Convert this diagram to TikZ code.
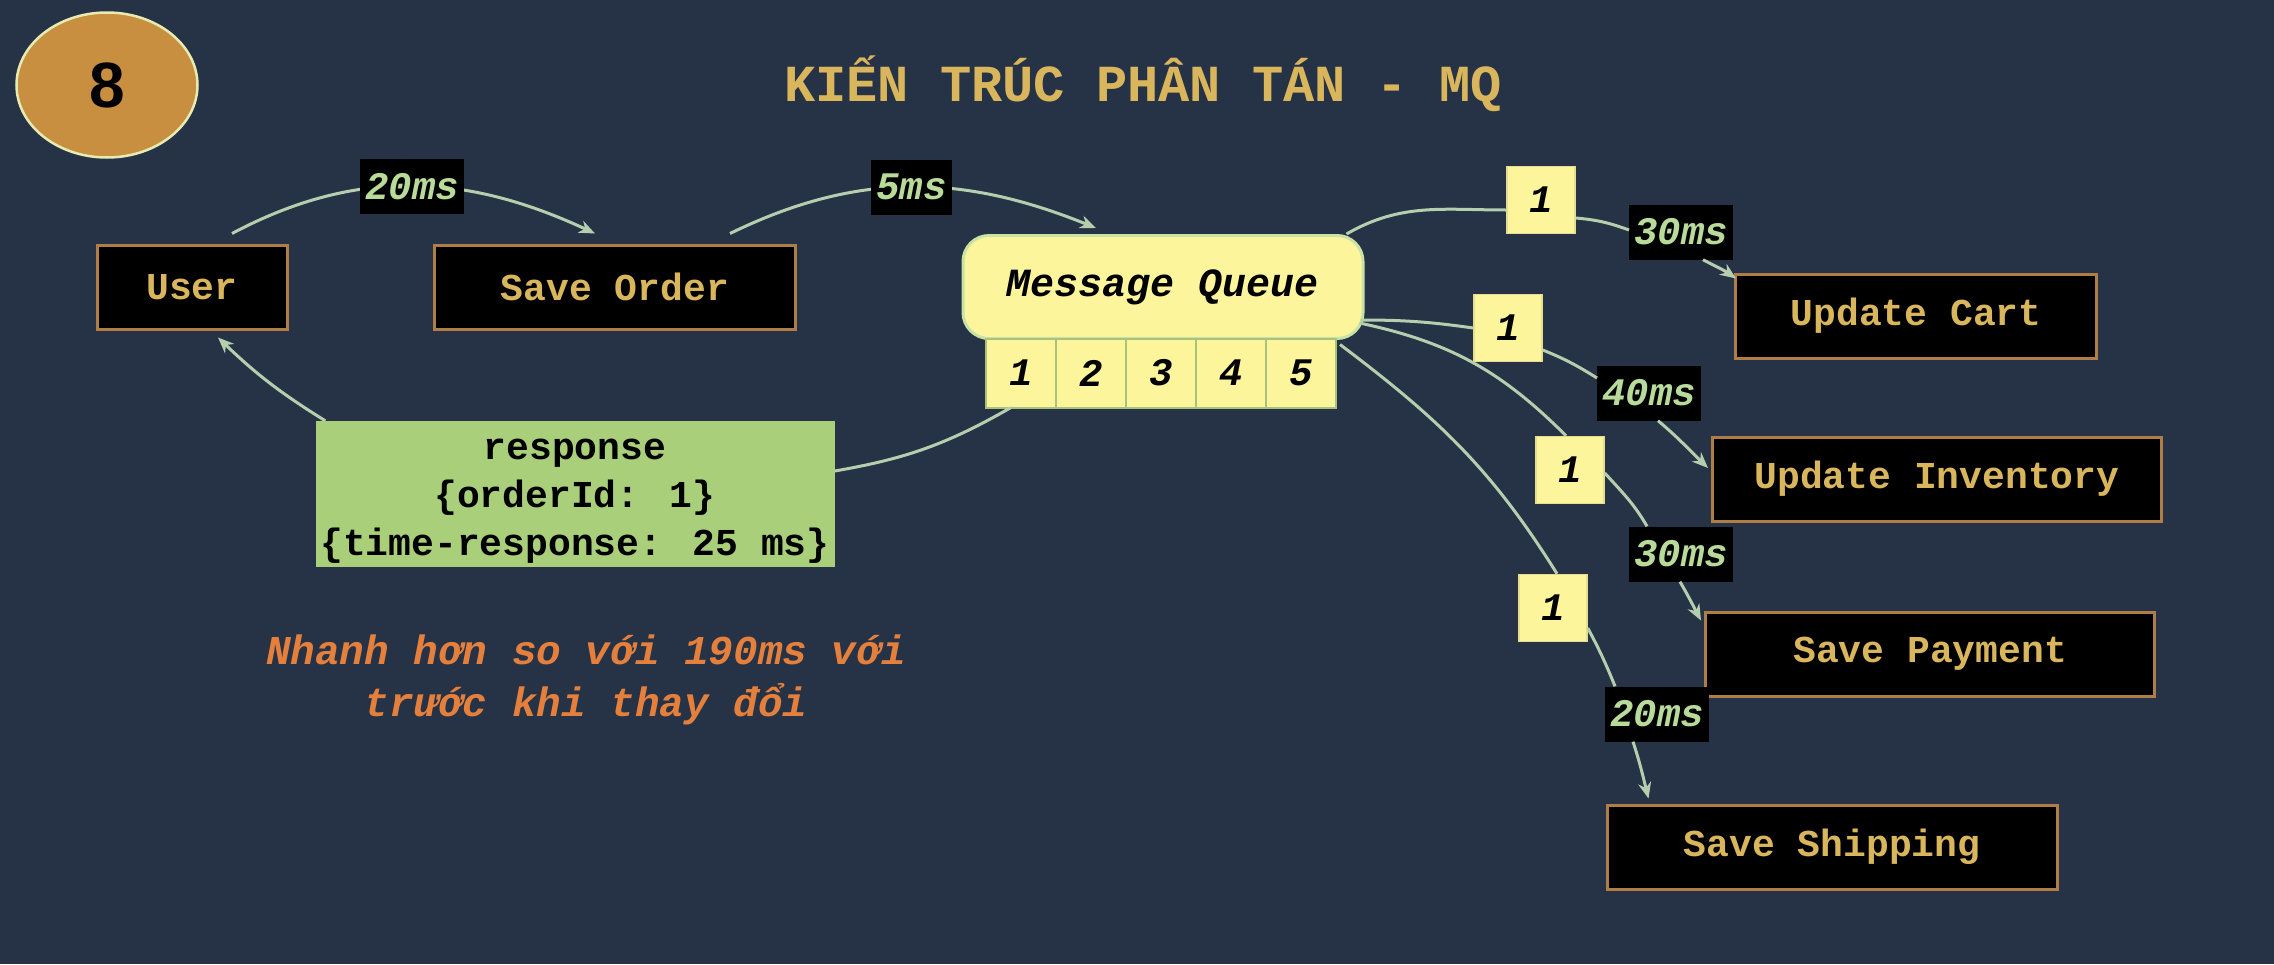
\documentclass[tikz,border=0pt]{standalone}
\usepackage{fontspec}
\setmainfont{Liberation Mono}
\newfontfamily\badgefont{Liberation Sans}
\usetikzlibrary{positioning, shapes.geometric, arrows.meta}
\definecolor{bg}{HTML}{263347}
\definecolor{gold}{HTML}{D9B55C}
\definecolor{rim}{HTML}{B07D45}
\definecolor{mint}{HTML}{B9DB9A}
\definecolor{wirecol}{HTML}{B5CFAE}
\definecolor{lemon}{HTML}{FDF59C}
\definecolor{lemonedge}{HTML}{E6DE8E}
\definecolor{queueedge}{HTML}{C9E3A4}
\definecolor{celledge}{HTML}{A9C37C}
\definecolor{lime}{HTML}{A9CF7A}
\definecolor{tangerine}{HTML}{E5803C}
\definecolor{copper}{HTML}{C98F41}
\definecolor{badgeedge}{HTML}{E6ECB0}
\newcommand{\boxfont}{\bfseries\fontsize{38}{46}\selectfont}
\newcommand{\tagfont}{\bfseries\itshape\fontsize{39}{46}\selectfont}

\tikzset{
	service/.style={draw=rim, line width=3pt, fill=black, text=gold, font=\boxfont, minimum height=84pt, inner sep=0pt},
	delay/.style={fill=black, text=mint, font=\tagfont, inner sep=5pt, minimum height=55pt},
	slot/.style={fill=lemon, draw=lemonedge, line width=1.5pt, text=black, font=\tagfont, minimum width=68pt, minimum height=67pt, inner sep=0pt},
	cell/.style={fill=lemon, draw=celledge, line width=2pt, text=black, font=\tagfont, minimum width=70pt, minimum height=69pt, inner sep=0pt, outer sep=0pt},
	feed/.style={draw=wirecol, line width=3pt},
	flow/.style={feed, -{Stealth[length=16pt,width=13pt]}},
}

\begin{document}
\begin{tikzpicture}[x=1pt, y=-1pt]
	\fill[bg] (0,0) rectangle (2274,964);
	\useasboundingbox (0,0) rectangle (2274,964);

	\node[ellipse, fill=copper, draw=badgeedge, line width=2.5pt, minimum width=181pt, minimum height=145pt, font=\badgefont\bfseries\fontsize{64}{72}\selectfont] (num) at (107,85) {8};
	\node[text=gold, font=\bfseries\fontsize{52}{60}\selectfont] (head) at (1143,84) {KIẾN TRÚC PHÂN TÁN - MQ};

	\node[service, minimum width=190pt] (user) at (192,287) {User};
	\node[service, minimum width=361pt] (order) at (615,287) {Save Order};
	\node[fill=lemon, draw=queueedge, line width=3pt, rounded corners=26pt, minimum width=400pt, minimum height=103pt, font=\bfseries\itshape\fontsize{40}{48}\selectfont] (mq) at (1163,287) {Message Queue};
	\node[cell] (c1) at (1021,373) {1};
	\node[cell, right=0pt of c1] (c2) {2};
	\node[cell, right=0pt of c2] (c3) {3};
	\node[cell, right=0pt of c3] (c4) {4};
	\node[cell, right=0pt of c4] (c5) {5};

	\node[fill=lime, minimum width=519pt, minimum height=146pt, inner sep=0pt, align=center, font=\bfseries\fontsize{38}{48}\selectfont] (resp) at (575,494) {\rule{0pt}{34pt}response\\\{orderId: 1\}\\\{time-response: 25 ms\}};
	\node[text=tangerine, align=center, font=\bfseries\itshape\fontsize{41}{52}\selectfont] (note) at (586,680) {Nhanh hơn so với 190ms với\\trước khi thay đổi};

	\node[service, minimum width=361pt] (cart) at (1916,316) {Update Cart};
	\node[service, minimum width=449pt] (inv) at (1937,479) {Update Inventory};
	\node[service, minimum width=449pt] (pay) at (1930,654) {Save Payment};
	\node[service, minimum width=450pt] (ship) at (1832,847) {Save Shipping};

	% request path
	\draw[flow] ([xshift=40pt,yshift=10pt]user.north) to[out=28,in=155] node[delay] (l20) {20ms} ([xshift=-20pt,yshift=10pt]order.north);
	\draw[flow] ([xshift=115pt,yshift=10pt]order.north) to[out=26,in=158] node[delay] (l5) {5ms} ([xshift=-67pt,yshift=6pt]mq.north);
	\draw[feed] ([xshift=-10pt]c1.south) to[bend left=10] ([yshift=23pt]resp.east);
	\draw[flow] ([xshift=10pt]resp.north west) to[bend left=6] ([xshift=26pt,yshift=-7pt]user.south);

	% fan-out of the queue
	\node[slot] (q1) at (1541,200) {1};
	\node[slot] (q2) at (1508,328) {1};
	\node[slot] (q3) at (1570,470) {1};
	\node[slot] (q4) at (1553,608) {1};
	\node[delay] (m1) at (1681,232) {30ms};
	\node[delay] (m2) at (1649,393) {40ms};
	\node[delay] (m3) at (1681,554) {30ms};
	\node[delay] (m4) at (1657,714) {20ms};

	\draw[feed] ([xshift=-18pt]mq.north east) to[out=30,in=180] ([yshift=-10pt]q1.west);
	\draw[feed] ([yshift=-18pt]q1.east) to[out=-5,in=160] ([yshift=2pt]m1.west);
	\draw[flow] ([xshift=22pt]m1.south) to[out=-28,in=145] ([xshift=2pt,yshift=-6pt]cart.north west);

	\draw[feed] ([xshift=-4pt,yshift=-33pt]mq.east) to[out=0,in=172] (q2.west);
	\draw[feed] ([yshift=-22pt]q2.east) to[out=-22,in=148] ([yshift=15pt]m2.west);
	\draw[flow] ([xshift=9pt]m2.south) to[out=-40,in=136] ([xshift=-3pt,yshift=11pt]inv.west);

	\draw[feed] ([xshift=-5pt,yshift=-36pt]mq.east) to[out=-12,in=135] ([xshift=-4pt]q3.north);
	\draw[feed] ([yshift=-3pt]q3.east) to[out=-48,in=120] ([xshift=-34pt]m3.north);
	\draw[flow] ([xshift=-1pt]m3.south) to[out=-60,in=118] ([xshift=-3pt,yshift=-10pt]pay.north west);

	\draw[feed] ([xshift=4pt,yshift=-6pt]c5.north east) to[out=-37,in=122] ([xshift=4pt]q4.north);
	\draw[feed] ([yshift=-20pt]q4.east) to[out=-62,in=112] ([xshift=-42pt]m4.north);
	\draw[flow] ([xshift=-24pt]m4.south) to[out=-72,in=104] ([xshift=43pt,yshift=5pt]ship.north west);
\end{tikzpicture}
\end{document}
